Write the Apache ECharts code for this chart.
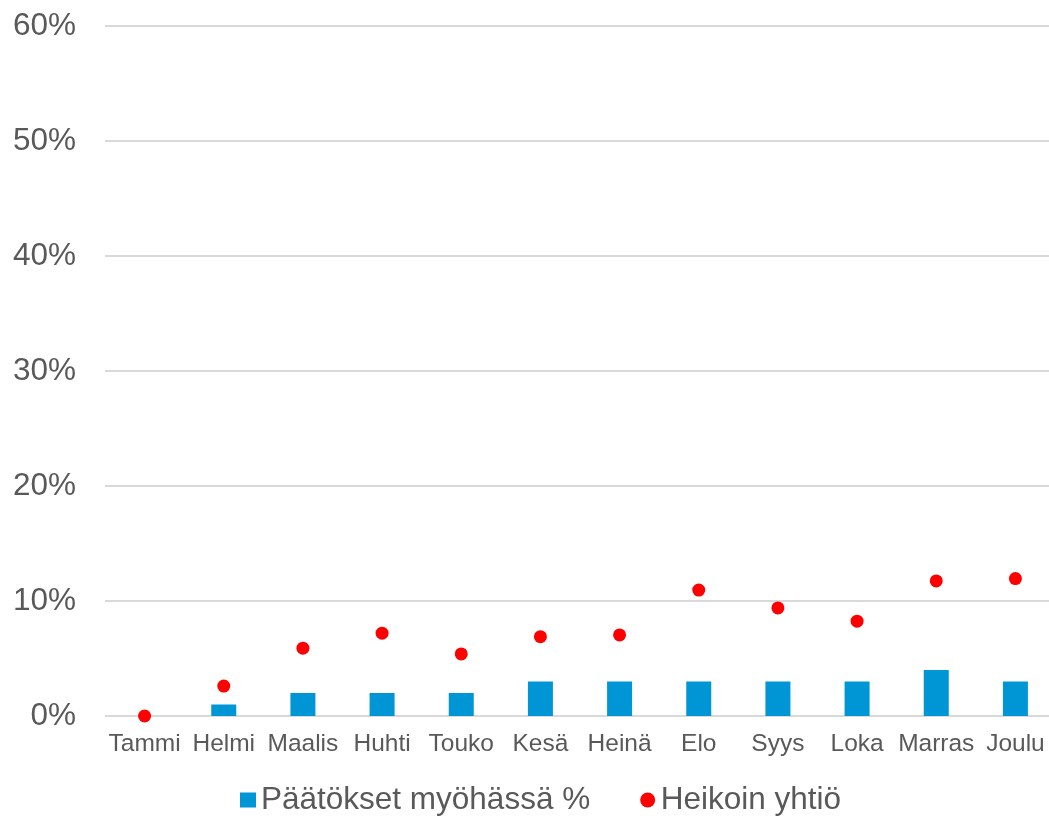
<!DOCTYPE html>
<html>
<head>
<meta charset="utf-8">
<style>
  html, body { margin: 0; padding: 0; background: #ffffff; overflow: hidden; }
  #chart { width: 1056px; height: 816px; }
</style>
<script src="https://cdn.jsdelivr.net/npm/echarts@6/dist/echarts.min.js"></script>
</head>
<body>
<div id="chart"></div>
<script>
// Monthly share of decisions that were late (%), and the weakest company's share
const months = ['Tammi', 'Helmi', 'Maalis', 'Huhti', 'Touko', 'Kesä', 'Heinä', 'Elo', 'Syys', 'Loka', 'Marras', 'Joulu'];
const latePct = [0, 1, 2, 2, 2, 3, 3, 3, 3, 3, 4, 3];
const weakestPct = [0, 2.6, 5.9, 7.2, 5.4, 6.9, 7.05, 10.95, 9.4, 8.25, 11.75, 11.95];
const yTicks = [0, 10, 20, 30, 40, 50, 60];

const seriesNames = ['Päätökset myöhässä %', 'Heikoin yhtiö'];
const textColor = '#595959';
const fontFamily = '"Liberation Sans", Arial, sans-serif';

const chart = echarts.init(document.getElementById('chart'), null, { renderer: 'canvas' });
chart.setOption({
  animation: false,
  backgroundColor: '#ffffff',
  grid: { left: 105, top: 26, width: 950, bottom: 100, containLabel: false },
  legend: {
    left: 240,
    top: 784,
    padding: 0,
    itemGap: 50,
    itemWidth: 16,
    itemHeight: 15,
    textStyle: { color: textColor, fontSize: 31.5, fontFamily: fontFamily },
    data: [
      { name: seriesNames[0], icon: 'rect' },
      { name: seriesNames[1], icon: 'circle' }
    ]
  },
  xAxis: {
    type: 'category',
    data: months,
    axisLine: { show: false },
    axisTick: { show: false },
    axisLabel: { color: textColor, fontSize: 24.5, fontFamily: fontFamily, margin: 16, interval: 0 }
  },
  yAxis: {
    type: 'value',
    min: yTicks[0],
    max: yTicks[yTicks.length - 1],
    interval: 10,
    axisLine: { show: false },
    axisTick: { show: false },
    axisLabel: {
      color: textColor, fontSize: 31.5, fontFamily: fontFamily, margin: 29,
      formatter: v => v + '%'
    },
    splitLine: { lineStyle: { color: '#d9d9d9', width: 2 } }
  },
  series: [
    {
      name: seriesNames[0],
      type: 'bar',
      data: latePct,
      barWidth: 25,
      itemStyle: { color: '#0096d6' },
      z: 2
    },
    {
      name: seriesNames[1],
      type: 'scatter',
      data: weakestPct,
      symbol: 'circle',
      symbolSize: 13,
      itemStyle: { color: '#ff0000', opacity: 1 },
      z: 3
    }
  ]
});
</script>
</body>
</html>
